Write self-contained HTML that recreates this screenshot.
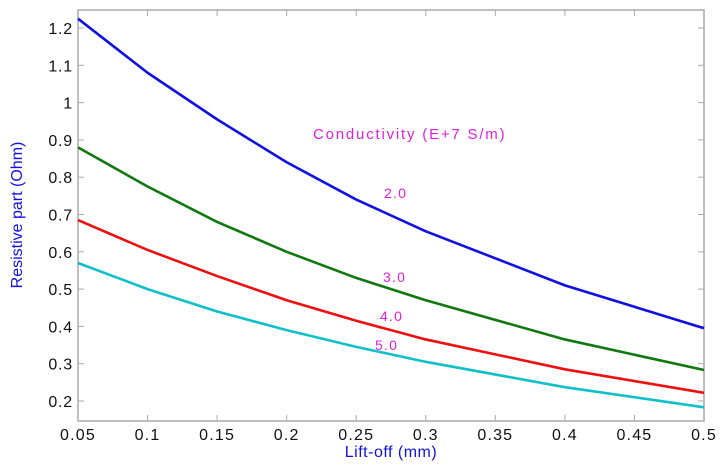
<!DOCTYPE html>
<html><head><meta charset="utf-8"><style>
body{margin:0;background:#fff;}
svg text{font-family:"Liberation Sans",Arial,sans-serif;}
</style></head><body>
<svg id="chart" width="726" height="470" xmlns="http://www.w3.org/2000/svg">
<rect x="78" y="10" width="626" height="411" fill="#fff" stroke="#aaa" stroke-width="1.5"/>
<g id="ticks"></g>
<g id="series"></g>
<text x="313" y="139" font-size="15" fill="#e020e0" letter-spacing="1.8">Conductivity (E+7 S/m)</text>
<text x="384" y="198" font-size="14" fill="#e020e0" letter-spacing="1.2">2.0</text>
<text x="383" y="282" font-size="14" fill="#e020e0" letter-spacing="1.2">3.0</text>
<text x="380" y="321" font-size="14" fill="#e020e0" letter-spacing="1.2">4.0</text>
<text x="375" y="350" font-size="14" fill="#e020e0" letter-spacing="1.2">5.0</text>
<text x="391" y="457" font-size="16" fill="#1010e0" text-anchor="middle" letter-spacing="0.5">Lift-off (mm)</text>
<text transform="translate(22,215) rotate(-90)" font-size="16" fill="#1010e0" text-anchor="middle">Resistive part (Ohm)</text>
</svg>
<script>
const xs=[0.05,0.1,0.15,0.2,0.25,0.3,0.4,0.5];
const s20=[1.225,1.08,0.955,0.84,0.74,0.655,0.51,0.395];
const s30=[0.88,0.775,0.68,0.6,0.53,0.47,0.365,0.283];
const s40=[0.685,0.605,0.535,0.47,0.415,0.365,0.285,0.222];
const s50=[0.57,0.5,0.44,0.39,0.345,0.305,0.237,0.183];
const xTicks=[0.05,0.1,0.15,0.2,0.25,0.3,0.35,0.4,0.45,0.5];
const xTickLabels=["0.05","0.1","0.15","0.2","0.25","0.3","0.35","0.4","0.45","0.5"];
const yTicks=[0.2,0.3,0.4,0.5,0.6,0.7,0.8,0.9,1,1.1,1.2];
const yTickLabels=["0.2","0.3","0.4","0.5","0.6","0.7","0.8","0.9","1","1.1","1.2"];
const NS="http://www.w3.org/2000/svg";
const L=78,R=704,T=10,B=421;
function X(v){return L+(v-0.05)/0.45*(R-L);}
function Y(v){return 401-(v-0.2)*373;}
const tg=document.getElementById('ticks');
function mk(t,a){const e=document.createElementNS(NS,t);for(const k in a)e.setAttribute(k,a[k]);return e;}
xTicks.forEach((v,i)=>{
 const x=X(v);
 const l1=mk('line',{x1:x,x2:x,y1:B,y2:B-6,stroke:'#aaa'});
 
 
 tg.appendChild(l1);
 const l2=mk('line',{x1:x,x2:x,y1:T,y2:T+6,stroke:'#aaa'});
 
 
 tg.appendChild(l2);
 const t=mk('text',{x:x,y:440,'font-size':16,'text-anchor':'middle',fill:'#111','letter-spacing':'1.2'});
 
 
 t.textContent=xTickLabels[i];tg.appendChild(t);
});
yTicks.forEach((v,i)=>{
 const y=Y(v);
 const l1=mk('line',{x1:L,x2:L+6,y1:y,y2:y,stroke:'#aaa'});
 
 
 tg.appendChild(l1);
 const l2=mk('line',{x1:R,x2:R-6,y1:y,y2:y,stroke:'#aaa'});
 
 
 tg.appendChild(l2);
 const t=mk('text',{x:73,y:y+6,'font-size':16,'text-anchor':'end',fill:'#111','letter-spacing':'0.8'});
 
 
 t.textContent=yTickLabels[i];tg.appendChild(t);
});
const sg=document.getElementById('series');
[[s20,'#1010e0','line-2-0'],[s30,'#107810','line-3-0'],[s40,'#ee1010','line-4-0'],[s50,'#10c0c8','line-5-0']].forEach(([d,c,n])=>{
 const p=mk('polyline',{points:d.map((v,i)=>X(xs[i])+','+Y(v)).join(' '),fill:'none',stroke:c,'stroke-width':2.6,'stroke-linejoin':'round'});
 
 
 sg.appendChild(p);
});
</script>
</body></html>
